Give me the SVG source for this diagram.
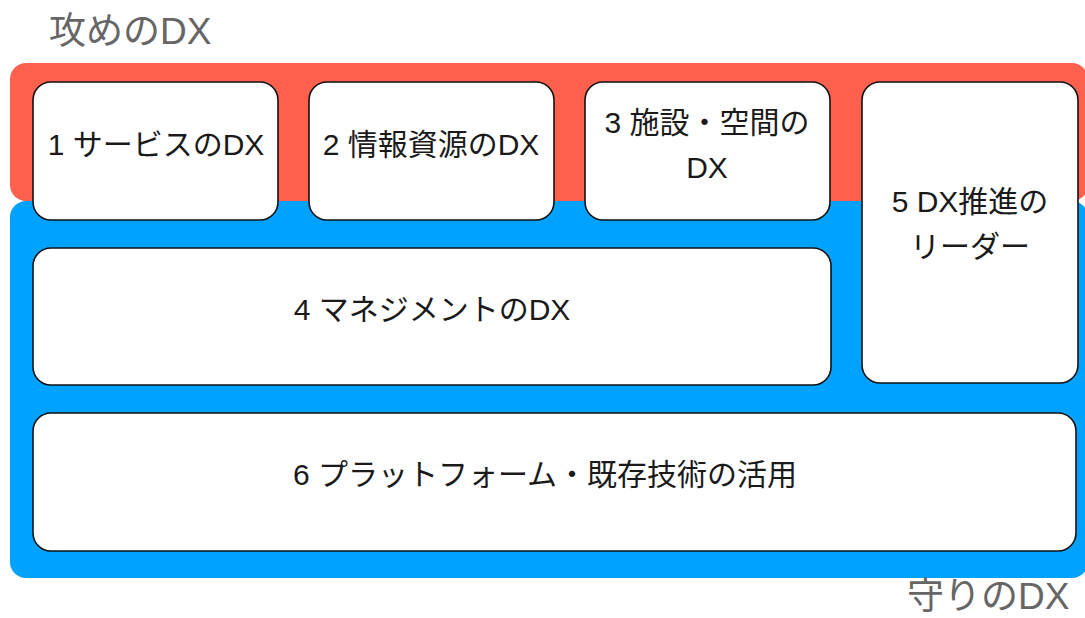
<svg xmlns="http://www.w3.org/2000/svg" width="1085" height="618" viewBox="0 0 1085 618">
<style>
.band-red{fill:#FF614E;}
.band-blue{fill:#00A2FF;}
.box{fill:#ffffff;stroke:#111111;stroke-width:1.6;}
.lbl{font-family:"Liberation Sans","Noto Sans CJK JP",sans-serif;font-size:30px;fill:#1a1a1a;text-anchor:middle;}
.ttl{font-family:"Liberation Sans","Noto Sans CJK JP",sans-serif;font-size:37px;fill:#666666;}
</style>
<rect width="1085" height="618" fill="#ffffff"/>
<g id="band-attack">
<rect class="band-red" x="10" y="63" width="1078" height="138" rx="16"/>
<text class="ttl" x="49" y="44">攻めのDX</text>
</g>
<g id="band-defense">
<rect class="band-blue" x="10" y="201" width="1078" height="377" rx="16"/>
<text class="ttl" x="907" y="609">守りのDX</text>
</g>
<g id="node1">
<rect class="box" x="33" y="82" width="245" height="138" rx="18"/>
<text class="lbl" x="156" y="155">1 サービスのDX</text>
</g>
<g id="node2">
<rect class="box" x="309" y="82" width="245" height="138" rx="18"/>
<text class="lbl" x="431" y="155">2 情報資源のDX</text>
</g>
<g id="node3">
<rect class="box" x="585" y="82" width="245" height="138" rx="18"/>
<text class="lbl" x="707" y="133">3 施設・空間の</text>
<text class="lbl" x="707" y="178">DX</text>
</g>
<g id="node5">
<rect class="box" x="862" y="82" width="216" height="301" rx="18"/>
<text class="lbl" x="970" y="212">5 DX推進の</text>
<text class="lbl" x="970" y="257">リーダー</text>
</g>
<g id="node4">
<rect class="box" x="33" y="248" width="798" height="137" rx="18"/>
<text class="lbl" x="432" y="320">4 マネジメントのDX</text>
</g>
<g id="node6">
<rect class="box" x="33" y="413" width="1043" height="138" rx="18"/>
<text class="lbl" x="545" y="485">6 プラットフォーム・既存技術の活用</text>
</g>
<g id="connectors"></g>
</svg>
